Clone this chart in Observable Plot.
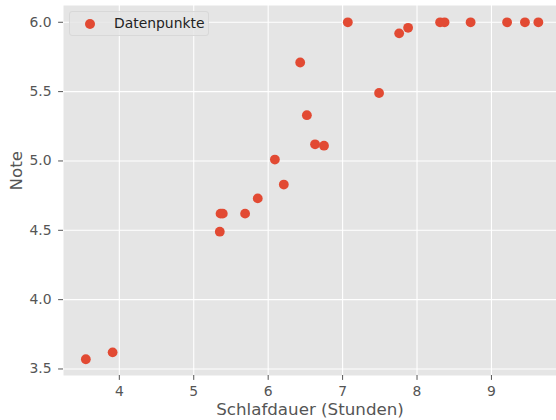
<!DOCTYPE html>
<html>
<head>
<meta charset="utf-8">
<script src="https://cdn.jsdelivr.net/npm/d3@7"></script>
<script src="https://cdn.jsdelivr.net/npm/@observablehq/plot@0.6"></script>
<style>
  html, body { margin: 0; padding: 0; background: #fff; overflow: hidden; }
  #wrap { position: relative; width: 556px; height: 420px; font-family: "DejaVu Sans", sans-serif; }
  #legend { position: absolute; left: 69px; top: 11px; width: 140px; height: 25px; box-sizing: border-box;
            background: rgba(229,229,229,0.8); border: 1px solid #d8d8d8; border-radius: 3px; }
  #legend .dot { position: absolute; left: 15px; top: 7px; width: 10px; height: 10px; border-radius: 50%; background: #E24A33; }
  #legend .lbl { position: absolute; left: 44px; top: 2px; font-size: 13.9px; color: #222; line-height: 18px; }
</style>
</head>
<body>
<div id="wrap"><div id="legend"><span class="dot"></span><span class="lbl">Datenpunkte</span></div></div>
<script>
const stunden = [3.55, 3.91, 5.35, 5.36, 5.39, 5.69, 5.86, 6.09, 6.21, 6.43, 6.52, 6.63, 6.75, 7.07, 7.49, 7.76, 7.88, 8.31, 8.37, 8.72, 9.21, 9.45, 9.63];
const noten   = [3.57, 3.62, 4.49, 4.62, 4.62, 4.62, 4.73, 5.01, 4.83, 5.71, 5.33, 5.12, 5.11, 6.00, 5.49, 5.92, 5.96, 6.00, 6.00, 6.00, 6.00, 6.00, 6.00];
const xTicks = [4, 5, 6, 7, 8, 9];
const yTicks = [3.5, 4.0, 4.5, 5.0, 5.5, 6.0];
const xLabel = "Schlafdauer (Stunden)";
const yLabel = "Note";
const seriesName = "Datenpunkte";

const data = stunden.map((s, i) => ({s, n: noten[i]}));

const chart = Plot.plot({
  width: 556,
  height: 420,
  marginLeft: 63,
  marginRight: 0,
  marginTop: 5,
  marginBottom: 45,
  style: {fontFamily: "DejaVu Sans, sans-serif", background: "#fff"},
  x: {domain: [3.25, 9.874]},
  y: {domain: [3.453, 6.121]},
  marks: [
    Plot.frame({fill: "#E5E5E5", stroke: null}),
    Plot.gridX(xTicks, {stroke: "#fff", strokeOpacity: 1, strokeWidth: 1.1}),
    Plot.gridY(yTicks, {stroke: "#fff", strokeOpacity: 1, strokeWidth: 1.1}),
    Plot.dot(data, {x: "s", y: "n", r: 4.9, fill: "#E24A33", stroke: null}),
    Plot.axisX(xTicks, {tickSize: 4.9, tickPadding: 6, fontSize: 13.9, color: "#555", label: null}),
    Plot.axisY(yTicks, {tickSize: 4.9, tickPadding: 7, fontSize: 13.9, color: "#555", label: null, tickFormat: d3.format(".1f")}),
    Plot.text([xLabel], {frameAnchor: "bottom", dy: 39, fontSize: 16.7, fill: "#555", text: d => d}),
    Plot.text([yLabel], {frameAnchor: "left", dx: -47, rotate: -90, fontSize: 16.7, fill: "#555", text: d => d})
  ]
});
document.getElementById("wrap").prepend(chart);
document.querySelector("#legend .lbl").textContent = seriesName;
</script>
</body>
</html>
